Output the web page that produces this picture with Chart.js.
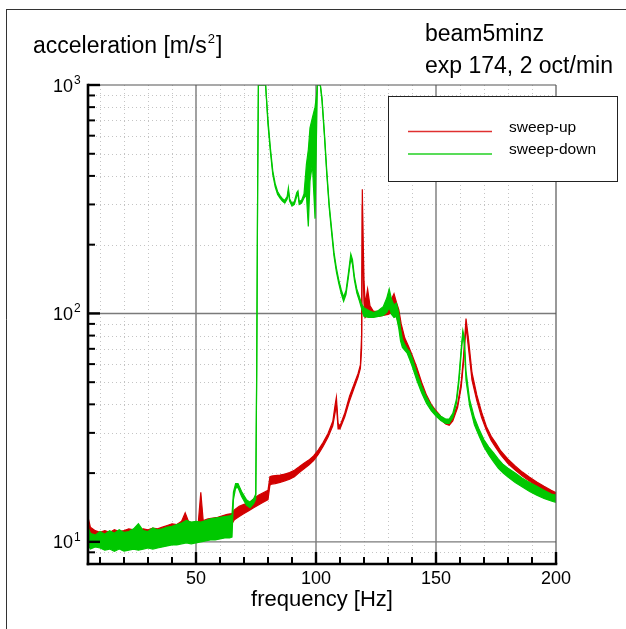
<!DOCTYPE html>
<html><head><meta charset="utf-8">
<script src="https://cdn.jsdelivr.net/npm/chart.js@4.4.1/dist/chart.umd.min.js"></script>
<style>html,body{margin:0;padding:0;background:#fff;overflow:hidden}canvas{display:block}</style>
</head><body>
<canvas id="c" width="626" height="629"></canvas>
<script>
// ---- tick values ----
const xMajorTicks = [50, 100, 150, 200];
const xMinorTicks = [10, 20, 30, 40, 60, 70, 80, 90, 110, 120, 130, 140, 160, 170, 180, 190];
const yMajorTicks = [10, 100, 1000];
const yMajorLabels = [['10', '1'], ['10', '2'], ['10', '3']];
const yMinorTicks = [8, 9, 20, 30, 40, 50, 60, 70, 80, 90, 200, 300, 400, 500, 600, 700, 800, 900];

// ---- sweep-down (green): frequency, upper and lower edge of the trace ----
const downFreq = [
  5, 6, 8, 10, 12, 14, 16, 18, 20, 22,
  24, 26, 28, 30, 32, 34, 36, 38, 40, 42,
  44, 46, 48, 50, 52, 54, 56, 58, 60, 62,
  64, 65, 65.6, 66.5, 67.5, 69, 71, 72.5, 74, 74.9,
  75.3, 75.7, 76, 79, 80, 81, 82, 83, 84, 85,
  86, 87, 88, 88.5, 89, 90, 91, 92, 92.5, 93,
  94, 95, 96, 96.8, 97.5, 98.5, 99.6, 100.2, 100.6, 101.8,
  102.5, 103.5, 104.5, 105.5, 106.5, 107.5, 108.5, 109.5, 110.5, 111.5,
  112.5, 113.5, 114.5, 115.2, 116, 117, 118, 119, 120, 122,
  124, 126, 128, 129.5, 130.5, 131.5, 132.5, 133.5, 134.5, 135.2,
  136, 137, 138, 139, 140, 142, 144, 146, 148, 150,
  152, 154, 155.5, 157, 158.5, 159.5, 160.5, 161.2, 161.8, 162.5,
  164, 166, 168, 170, 172, 174, 176, 178, 180, 183,
  186, 189, 192, 195, 198, 200];
const downHigh = [
  11.6, 10.9, 10.7, 11.1, 10.8, 11.2, 10.9, 11.3, 11.0, 11.1,
  11.4, 12.0, 11.2, 11.1, 11.5, 11.3, 11.4, 11.6, 11.7, 11.9,
  12.1, 12.4, 12.2, 12.3, 12.2, 12.4, 12.6, 12.7, 12.8, 12.9,
  13.0, 13.1, 16.5, 18.0, 18.0, 16.6, 15.3, 14.9, 15.4, 16.2,
  60, 400, 1000, 1000, 700, 530, 420, 370, 342, 328,
  318, 313, 326, 354, 318, 303, 309, 338, 344, 309,
  313, 333, 450, 520, 650, 720, 800, 900, 1000, 1000,
  880, 620, 420, 300, 235, 185, 158, 140, 127, 118,
  126, 150, 182, 172, 145, 128, 119, 110, 106, 103,
  101, 103, 107, 117, 128, 115, 109, 111, 100, 86,
  77, 73, 70, 68, 64, 55, 48, 43, 39.5, 37,
  35.5, 34.5, 34.5, 36.5, 42, 52, 70, 84, 78, 56,
  42, 35, 31, 28, 26, 24.5, 23, 21.8, 21, 20,
  19, 18.2, 17.5, 16.8, 16.2, 16.0];
const downLow = [
  9.7, 9.3, 9.5, 9.4, 9.2, 9.3, 9.1, 9.3, 9.1, 9.2,
  9.3, 9.2, 9.3, 9.4, 9.3, 9.4, 9.5, 9.6, 9.7, 9.7,
  9.8, 9.9, 9.8, 9.9, 10.0, 10.1, 10.2, 10.2, 10.3, 10.4,
  10.4, 10.5, 15.3, 17.2, 17.3, 15.8, 14.5, 14.1, 14.7, 15.4,
  55, 380, 1000, 1000, 670, 510, 405, 358, 332, 320,
  310, 304, 317, 342, 310, 295, 300, 326, 332, 300,
  304, 320, 330, 240, 380, 450, 260, 600, 1000, 1000,
  850, 600, 405, 290, 226, 178, 152, 135, 122, 113,
  121, 144, 174, 164, 140, 123, 114, 105, 97, 96,
  96, 97, 98, 101, 106, 99, 96, 97, 86, 76,
  71, 69, 67, 63, 59, 51, 45, 40.5, 37.5, 35.5,
  34, 33, 33, 35, 40.5, 49.5, 67, 81, 73, 51,
  39.5, 32.5, 29, 26, 24, 22.4, 21, 20, 19.2, 18.2,
  17.4, 16.6, 16, 15.5, 15.1, 14.9];

// ---- sweep-up (red) ----
const upFreq = [
  5, 5.5, 6, 8, 10, 12, 14, 16, 18, 20,
  22, 24, 26, 28, 30, 32, 34, 36, 38, 40,
  42, 44, 45.5, 47, 49, 51, 52, 53, 55, 57,
  59, 61, 63, 65, 66, 68, 70, 72, 74, 76,
  78, 80, 80.8, 81.5, 83, 85, 87, 89, 91, 93,
  95, 97, 99, 101, 103, 105, 107, 108, 108.5, 109.2,
  110, 112, 114, 116, 117.5, 118.5, 119, 119.3, 119.6, 120,
  120.5, 121.5, 122.5, 124, 126, 128, 130, 131.5, 132.5, 133.5,
  134.5, 135.5, 137, 138.5, 140, 142, 144, 146, 148, 150,
  152, 154, 155.5, 157, 159, 160.5, 161.5, 162.5, 163.5, 165,
  167, 169, 171, 173, 175, 177, 180, 183, 186, 189,
  192, 195, 198, 200];
const upHigh = [
  12.8, 12.2, 11.6, 11.2, 11.0, 11.2, 11.0, 11.3, 11.1, 11.2,
  11.4, 11.3, 11.2, 11.4, 11.3, 11.5, 11.4, 11.6, 11.8, 12.0,
  11.9, 12.3, 13.4, 12.2, 12.1, 12.3, 16.5, 12.4, 12.6, 12.7,
  12.8, 13.0, 13.2, 13.3, 13.8, 14.3, 14.6, 14.8, 15.4, 16.0,
  16.4, 16.8, 19.3, 19.4, 19.5, 19.6, 19.8, 20.1, 20.6, 21.3,
  22.1, 22.8, 23.8, 25.3, 27.3, 29.8, 33.7, 40, 43, 33,
  32.2, 36.7, 43.5, 49.5, 54.5, 59.5, 80, 350, 220, 140,
  110, 128, 108, 102, 102, 104, 110, 116, 122, 112,
  104, 90, 78, 72, 66, 58, 50, 44, 40, 37.5,
  35.5, 34, 33.5, 35, 40, 50, 65, 95, 78, 55,
  44, 37, 32, 29, 27, 25, 23, 21.5, 20.2, 19.2,
  18.3, 17.5, 16.8, 16.4];
const upLow = [
  10.1, 10.2, 10.0, 10.0, 9.9, 9.9, 9.8, 9.9, 9.8, 9.9,
  9.9, 10.0, 10.0, 10.1, 10.1, 10.2, 10.1, 10.2, 10.3, 10.4,
  10.4, 10.6, 11.0, 10.7, 10.8, 10.9, 11.0, 11.1, 11.3, 11.4,
  11.5, 11.7, 11.9, 12.0, 12.5, 12.9, 13.3, 13.7, 14.1, 14.5,
  14.9, 15.3, 17.7, 17.9, 18.0, 18.2, 18.5, 18.8, 19.3, 20.1,
  20.9, 21.7, 22.7, 24.2, 26.2, 28.7, 32.2, 37, 40, 31.2,
  31.2, 35.3, 41.5, 47.5, 52.5, 57.5, 70, 300, 160, 110,
  96, 99, 97, 97, 97, 98, 99, 101, 97, 97,
  89, 79, 71, 67, 61, 53, 47, 42, 38.5, 36,
  34.3, 32.8, 32.4, 33.8, 38.7, 47.5, 61.5, 88, 71, 51,
  41.5, 35, 30.8, 27.8, 25.8, 24, 22, 20.6, 19.4, 18.4,
  17.5, 16.8, 16.2, 15.8];

const seriesNames = ['sweep-up', 'sweep-down'];
const titleLines = ['beam5minz', 'exp 174, 2 oct/min'];

const FONT = '"Liberation Sans", Arial, Helvetica, sans-serif';
const RED = '#d20000', GREEN = '#00c800';

function pts(fs, vs) { return fs.map((f, i) => ({ x: f, y: vs[i] })); }

function seg(ctx, x1, y1, x2, y2) { ctx.beginPath(); ctx.moveTo(x1, y1); ctx.lineTo(x2, y2); ctx.stroke(); }

const decor = {
  id: 'decor',
  beforeDraw(chart) {
    const c = chart.ctx;
    c.save(); c.fillStyle = '#fff'; c.fillRect(0, 0, chart.width, chart.height); c.restore();
  },
  beforeDatasetsDraw(chart) {
    const { ctx, chartArea: a, scales: { x, y } } = chart;
    ctx.save();
    ctx.strokeStyle = '#c4c4c4'; ctx.lineWidth = 1; ctx.setLineDash([1, 3]);
    xMinorTicks.forEach(v => { const p = Math.round(x.getPixelForValue(v)) + 0.5; seg(ctx, p, a.top, p, a.bottom); });
    yMinorTicks.forEach(v => { const p = Math.round(y.getPixelForValue(v)) + 0.5; seg(ctx, a.left, p, a.right, p); });
    ctx.setLineDash([]);
    ctx.strokeStyle = '#7a7a7a'; ctx.lineWidth = 1.4;
    xMajorTicks.forEach(v => { if (v < x.max) { const p = x.getPixelForValue(v); seg(ctx, p, a.top, p, a.bottom); } });
    yMajorTicks.forEach(v => { if (v < y.max) { const p = y.getPixelForValue(v); seg(ctx, a.left, p, a.right, p); } });
    ctx.restore();
  },
  afterDatasetsDraw(chart) {
    const { ctx, chartArea: a, scales: { x, y } } = chart;
    ctx.save();
    // outer frame
    ctx.strokeStyle = '#333'; ctx.lineWidth = 1;
    seg(ctx, 6.5, 9.5, 6.5, chart.height); seg(ctx, 6, 9.5, chart.width, 9.5);
    // plot frame: thin top/right, thick left/bottom
    ctx.strokeStyle = '#555'; ctx.lineWidth = 1.2;
    seg(ctx, a.left, a.top, a.right, a.top); seg(ctx, a.right, a.top, a.right, a.bottom);
    ctx.strokeStyle = '#000'; ctx.lineWidth = 2.6; ctx.lineCap = 'square';
    seg(ctx, a.left, a.top, a.left, a.bottom); seg(ctx, a.left, a.bottom, a.right, a.bottom);
    ctx.lineCap = 'butt';
    // ticks (inward)
    ctx.lineWidth = 2.4;
    yMajorTicks.forEach(v => { const p = y.getPixelForValue(v); seg(ctx, a.left, p, a.left + 12, p); });
    xMajorTicks.forEach(v => { const p = x.getPixelForValue(v); seg(ctx, p, a.bottom, p, a.bottom - 12); });
    ctx.lineWidth = 2;
    yMinorTicks.forEach(v => { const p = y.getPixelForValue(v); seg(ctx, a.left, p, a.left + 7, p); });
    xMinorTicks.forEach(v => { const p = x.getPixelForValue(v); seg(ctx, p, a.bottom, p, a.bottom - 7); });
    // tick labels
    ctx.fillStyle = '#000';
    ctx.font = '18px ' + FONT; ctx.textAlign = 'center'; ctx.textBaseline = 'alphabetic';
    xMajorTicks.forEach(v => { ctx.fillText(String(v), x.getPixelForValue(v), a.bottom + 20); });
    yMajorTicks.forEach((v, i) => {
      const p = y.getPixelForValue(v);
      ctx.font = '18px ' + FONT; ctx.textAlign = 'right';
      ctx.fillText(yMajorLabels[i][0], a.left - 15, p + 6.5);
      ctx.font = '12px ' + FONT; ctx.textAlign = 'left';
      ctx.fillText(yMajorLabels[i][1], a.left - 14, p - 1);
    });
    // axis titles
    ctx.font = '22px ' + FONT; ctx.textAlign = 'center';
    ctx.fillText('frequency [Hz]', (a.left + a.right) / 2, 606);
    ctx.font = '23px ' + FONT; ctx.textAlign = 'left';
    const t1 = 'acceleration [m/s';
    ctx.fillText(t1, 33, 53);
    let w = ctx.measureText(t1).width;
    ctx.font = '13px ' + FONT; ctx.fillText('2', 33 + w + 1, 43);
    const w2 = ctx.measureText('2').width;
    ctx.font = '23px ' + FONT; ctx.fillText(']', 33 + w + w2 + 2, 53);
    ctx.fillText(titleLines[0], 425, 41);
    ctx.fillText(titleLines[1], 425, 73);
    // legend box
    ctx.fillStyle = '#fff'; ctx.fillRect(388.5, 96.5, 229, 85);
    ctx.strokeStyle = '#222'; ctx.lineWidth = 1; ctx.strokeRect(388.5, 96.5, 229, 85);
    const ds = chart.data.datasets.filter(d => d.legend);
    ds.forEach((d, i) => {
      const ly = 131.5 + i * 22.5;
      ctx.strokeStyle = d.legendColor; ctx.lineWidth = 1.3;
      seg(ctx, 408, ly, 492, ly);
      ctx.fillStyle = '#000'; ctx.font = '15.5px ' + FONT; ctx.textAlign = 'left';
      ctx.fillText(d.label, 509, ly);
    });
    ctx.restore();
  }
};

const common = { borderWidth: 1.2, pointRadius: 0, tension: 0 };
const hiddenScale = { ticks: { display: false }, grid: { display: false, drawTicks: false, tickLength: 0 }, border: { display: false } };
new Chart(document.getElementById('c'), {
  type: 'line',
  data: {
    datasets: [
      { ...common, label: seriesNames[0], legend: true, legendColor: '#e03030', data: pts(upFreq, upHigh), borderColor: RED, backgroundColor: RED, fill: false, order: 2 },
      { ...common, label: seriesNames[0] + ' low', data: pts(upFreq, upLow), borderColor: RED, backgroundColor: RED, fill: '-1', order: 2 },
      { ...common, label: seriesNames[1], legend: true, legendColor: '#22d022', data: pts(downFreq, downHigh), borderColor: GREEN, backgroundColor: GREEN, fill: false, order: 1 },
      { ...common, label: seriesNames[1] + ' low', data: pts(downFreq, downLow), borderColor: GREEN, backgroundColor: GREEN, fill: '-1', order: 1 }
    ]
  },
  options: {
    responsive: false, animation: false, devicePixelRatio: 1,
    layout: { padding: { left: 88, right: 70, top: 85, bottom: 65 } },
    scales: {
      x: { type: 'linear', min: 5, max: 200, ...hiddenScale },
      y: { type: 'logarithmic', min: 8, max: 1000, ...hiddenScale }
    },
    plugins: { legend: { display: false }, tooltip: { enabled: false } }
  },
  plugins: [decor]
});
</script>
</body></html>
